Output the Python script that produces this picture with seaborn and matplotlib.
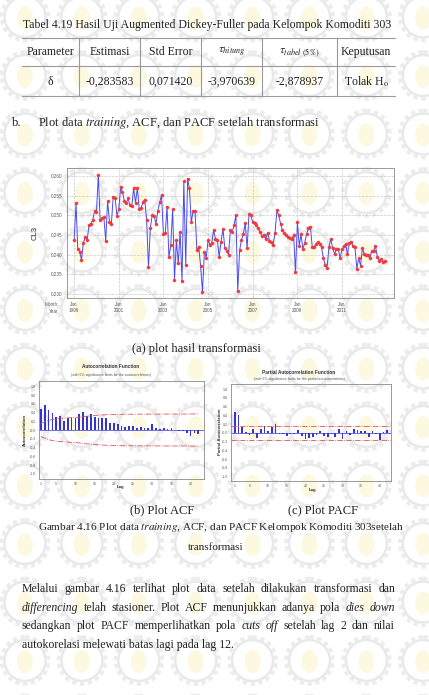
import numpy as np
import pandas as pd
import matplotlib
matplotlib.use('Agg')
import matplotlib.pyplot as plt
import seaborn as sns
from matplotlib.patches import Circle, Ellipse

W, H = 429, 695

# ---------------------------------------------------------------- data
# CL3 series after transformation, monthly Jan 1999 - Dec 2012
cl3 = [
    0.2437, 0.2530, 0.2414, 0.2408, 0.2387, 0.2430, 0.2444, 0.2436, 0.2475, 0.2479, 0.2488, 0.2511,
    0.2509, 0.2602, 0.2488, 0.2492, 0.2495, 0.2435, 0.2536, 0.2484, 0.2478, 0.2547, 0.2545, 0.2499,
    0.2516, 0.2572, 0.2558, 0.2537, 0.2530, 0.2543, 0.2526, 0.2523, 0.2568, 0.2532, 0.2570, 0.2515,
    0.2519, 0.2533, 0.2540, 0.2488, 0.2368, 0.2468, 0.2500, 0.2499, 0.2478, 0.2511, 0.2533, 0.2551,
    0.2452, 0.2456, 0.2522, 0.2393, 0.2425, 0.2515, 0.2336, 0.2436, 0.2378, 0.2458, 0.2334, 0.2587,
    0.2374, 0.2593, 0.2568, 0.2482, 0.2512, 0.2512, 0.2412, 0.2420, 0.2370, 0.2305, 0.2408, 0.2392,
    0.2437, 0.2425, 0.2430, 0.2462, 0.2440, 0.2437, 0.2395, 0.2433, 0.2465, 0.2418, 0.2410, 0.2400,
    0.2463, 0.2458, 0.2475, 0.2500, 0.2307, 0.2412, 0.2437, 0.2453, 0.2480, 0.2416, 0.2503, 0.2500,
    0.2482, 0.2480, 0.2475, 0.2467, 0.2458, 0.2447, 0.2450, 0.2440, 0.2456, 0.2435, 0.2433, 0.2425,
    0.2455, 0.2513, 0.2500, 0.2479, 0.2462, 0.2456, 0.2450, 0.2446, 0.2443, 0.2439, 0.2450, 0.2355,
    0.2482, 0.2422, 0.2453, 0.2414, 0.2430, 0.2453, 0.2467, 0.2471, 0.2420, 0.2420, 0.2426, 0.2433,
    0.2426, 0.2419, 0.2391, 0.2374, 0.2366, 0.2419, 0.2440, 0.2416, 0.2402, 0.2414, 0.2414, 0.2391,
    0.2414, 0.2421, 0.2427, 0.2401, 0.2429, 0.2433, 0.2422, 0.2419, 0.2364, 0.2391, 0.2372, 0.2416,
    0.2402, 0.2399, 0.2399, 0.2391, 0.2410, 0.2410, 0.2422, 0.2395, 0.2385, 0.2390, 0.2382, 0.2383,
]
tick_years = [1999, 2001, 2003, 2005, 2007, 2009, 2011]

acf_vals = [0.49, 0.57, 0.45, 0.39, 0.30, 0.33, 0.21, 0.28, 0.27, 0.27, 0.36, 0.41,
            0.33, 0.36, 0.30, 0.28, 0.28, 0.28, 0.17, 0.17, 0.13, 0.10, 0.075, 0.09,
            0.09, 0.05, 0.075, 0.05, 0.05, 0.13, 0.04, 0.015, 0.05, 0.03, 0.04, -0.01,
            -0.02, -0.015, -0.06, -0.135, -0.075, -0.09]
acf_lim = [0.151, 0.184, 0.221, 0.241, 0.255, 0.263, 0.272, 0.276, 0.282, 0.288, 0.294, 0.304,
           0.316, 0.324, 0.333, 0.339, 0.344, 0.349, 0.355, 0.356, 0.358, 0.359, 0.360, 0.361,
           0.361, 0.362, 0.362, 0.362, 0.363, 0.364, 0.364, 0.364, 0.364, 0.365, 0.365, 0.365,
           0.365, 0.365, 0.365, 0.367, 0.367, 0.368]
pacf_vals = [0.48, 0.42, 0.14, 0.02, -0.05, 0.08, -0.11, 0.08, 0.15, 0.04, 0.14, 0.20,
             -0.015, -0.03, -0.06, -0.015, -0.015, 0.06, -0.075, -0.15, -0.11, -0.10, -0.05, 0.04,
             -0.06, -0.10, -0.03, -0.10, 0.08, -0.13, 0.04, -0.05, 0.10, 0.06, 0.045, 0.045,
             -0.10, 0.04, -0.03, -0.17, 0.02, 0.06]
pacf_lim = 0.151

table_header = ['Parameter', 'Estimasi', 'Std Error', r'$\tau_{hitung}$',
                r'$\tau_{tabel\ \mathrm{(5\%)}}$', 'Keputusan']
table_row = ['δ', '-0,283583', '0,071420', '-3,970639', '-2,878937', r'Tolak H$_\mathrm{o}$']

# ---------------------------------------------------------------- style
sns.set_theme(style='white')
SANS = ['Liberation Sans', 'DejaVu Sans']
SERIF = ['Liberation Serif', 'DejaVu Serif']
plt.rcParams['font.family'] = SANS
plt.rcParams['mathtext.fontset'] = 'stix'

TXT = '#222222'
FS = 8.45
CAP = 9.0
ITALIC = ('differencing', 'dies', 'down', 'cuts', 'off')


def px(l, t, r, b):
    return [l / W, 1 - b / H, (r - l) / W, (b - t) / H]


fig = plt.figure(figsize=(W / 100, H / 100), dpi=100)
fig.patch.set_facecolor('white')
bg = fig.add_axes([0, 0, 1, 1], zorder=0)
bg.set_xlim(0, W)
bg.set_ylim(H, 0)
bg.axis('off')

# watermark (faint logo pattern)
for cx in np.arange(25, W + 30, 56.9):
    for cy in np.arange(17, H + 30, 58.5):
        bg.add_patch(Circle((cx, cy), 23.5, fill=False, ec='#ececec', lw=2.6, ls=(0, (1.2, 1.0)), zorder=0))
        bg.add_patch(Circle((cx, cy), 20.5, fill=False, ec='#e9e9e9', lw=1.8, zorder=0))
        bg.add_patch(Ellipse((cx, cy + 1), 16, 23, fc='#fdf8e0', ec='none', zorder=0))

rend = fig.canvas.get_renderer()


def line(s, x, y, ha='left', size=FS):
    bg.text(x, y, s, fontsize=size, family=SERIF, color=TXT, va='center', ha=ha, zorder=5)


def justify(s, y, x0, x1, size=FS):
    """place the words of s so that the line runs from x0 to x1"""
    words = [(w, w.strip(',.') in ITALIC) for w in s.split()]
    objs = []
    for w, it in words:
        objs.append(bg.text(0, y, w, fontsize=size, family=SERIF, color=TXT,
                            style='italic' if it else 'normal', va='center', ha='left', zorder=5))
    widths = [t.get_window_extent(rend).width for t in objs]
    gap = (x1 - x0 - sum(widths)) / (len(words) - 1)
    x = x0
    for t, wd in zip(objs, widths):
        t.set_x(x)
        x += wd + gap


# ---------------------------------------------------------------- table
line('Tabel 4.19 Hasil Uji Augmented Dickey-Fuller pada Kelompok Komoditi 303', 23, 25)
col_edges = [22, 79, 140, 201, 262, 337, 395]
for yy in [38, 66, 96]:
    bg.plot([22, 395], [yy, yy], color='#9a9a9a', lw=0.8, zorder=2)
for xx in col_edges[1:-1]:
    bg.plot([xx, xx], [38, 96], color='#9a9a9a', lw=0.8, zorder=2)
for i in range(6):
    cxx = (col_edges[i] + col_edges[i + 1]) / 2
    bg.text(cxx, 52, table_header[i], fontsize=FS, family=SERIF, color=TXT, ha='center', va='center')
    bg.text(cxx, 82, table_row[i], fontsize=FS, family=SERIF, color=TXT, ha='center', va='center')

line('b.', 12, 123, size=CAP)
line(r'Plot data $\mathit{training}$, ACF, dan PACF setelah transformasi', 38, 123, size=CAP)

# ---------------------------------------------------------------- time series plot
ax = fig.add_axes(px(67, 168, 394, 298), zorder=1)
ax.patch.set_alpha(0)
dates = pd.date_range('1999-01-01', periods=len(cl3), freq='MS')
df = pd.DataFrame({'date': dates, 'CL3': cl3})
sns.lineplot(data=df, x='date', y='CL3', ax=ax, color='#4a4af2', lw=0.7,
             marker='o', markersize=2.3, markerfacecolor='#f23a3a', markeredgecolor='#f23a3a',
             markeredgewidth=0.2)
ax.set_ylim(0.2290, 0.2620)
ax.set_xlim(pd.Timestamp('1998-09-06'), pd.Timestamp('2013-05-01'))
ax.set_yticks(np.arange(0.230, 0.2601, 0.005))
ax.set_yticklabels([f'{v:.3f}' for v in np.arange(0.230, 0.2601, 0.005)])
xt = pd.to_datetime([f'{y}-01-01' for y in tick_years])
ax.set_xticks(xt)
ax.set_xticklabels([f'Jan\n{y}' for y in tick_years], linespacing=1.25)
ax.grid(True, ls='--', color='#c9c9c9', lw=0.5)
ax.tick_params(labelsize=3.3, colors='#555555', length=1.5, width=0.4, pad=1.5)
for sp in ax.spines.values():
    sp.set_color('#8a8a8a')
    sp.set_linewidth(0.6)
ax.set_xlabel('')
ax.set_ylabel('CL3', fontsize=5.5, color='#333333', labelpad=9)
bg.text(58, 305, 'Month', fontsize=3.3, color='#555555', ha='right', va='center')
bg.text(58, 311.5, 'Year', fontsize=3.3, color='#555555', ha='right', va='center')

line('(a) plot hasil transformasi', 196, 349, ha='center', size=CAP)

# ---------------------------------------------------------------- ACF / PACF
lags = np.arange(1, len(acf_vals) + 1)
BAR = '#3434d4'
LIM = '#e05050'

ax2 = fig.add_axes(px(39, 381, 204, 479), zorder=1)
ax2.patch.set_alpha(0)
ax2.bar(lags, acf_vals, width=0.45, color=BAR, lw=0)
ax2.axhline(0, color=BAR, lw=0.5)
ax2.plot(lags, acf_lim, color=LIM, ls='-.', lw=0.6)
ax2.plot(lags, [-v for v in acf_lim], color=LIM, ls='-.', lw=0.6)
ax2.set_xlim(0.5, 43.5)
ax2.set_ylim(-1.12, 1.12)

ax3 = fig.add_axes(px(231, 384, 391, 481), zorder=1)
ax3.patch.set_alpha(0)
lags3 = np.arange(1, len(pacf_vals) + 1)
ax3.bar(lags3, pacf_vals, width=0.45, color=BAR, lw=0)
ax3.axhline(0, color=BAR, lw=0.5)
ax3.axhline(pacf_lim, color=LIM, ls='-.', lw=0.6)
ax3.axhline(-pacf_lim, color=LIM, ls='-.', lw=0.6)
ax3.set_xlim(0, 43)
ax3.set_ylim(-1.10, 1.12)

for a in (ax2, ax3):
    a.set_xticks([1, 5, 10, 15, 20, 25, 30, 35, 40])
    a.set_yticks(np.round(np.arange(-1.0, 1.01, 0.2), 1))
    a.set_yticklabels([f'{v:.1f}' for v in np.round(np.arange(-1.0, 1.01, 0.2), 1)])
    a.tick_params(labelsize=2.6, colors='#555555', length=1.2, width=0.4, pad=1.2)
    for sp in a.spines.values():
        sp.set_color('#8a8a8a')
        sp.set_linewidth(0.6)

bg.text(111, 367, 'Autocorrelation Function', fontsize=3.4, weight='bold', color='#333333', ha='center', va='center')
bg.text(111, 375, '(with 5% significance limits for the autocorrelations)', fontsize=2.5, color='#555555', ha='center', va='center')
bg.text(25, 430, 'Autocorrelation', fontsize=3.2, weight='bold', color='#333333', rotation=90, ha='center', va='center')
bg.text(121, 487, 'Lag', fontsize=3.2, weight='bold', color='#333333', ha='center', va='center')

bg.text(299, 372, 'Partial Autocorrelation Function', fontsize=3.4, weight='bold', color='#333333', ha='center', va='center')
bg.text(299, 379, '(with 5% significance limits for the partial autocorrelations)', fontsize=2.5, color='#555555', ha='center', va='center')
bg.text(220, 432, 'Partial Autocorrelation', fontsize=3.2, weight='bold', color='#333333', rotation=90, ha='center', va='center')
bg.text(313, 490, 'Lag', fontsize=3.2, weight='bold', color='#333333', ha='center', va='center')

line('(b) Plot ACF', 162, 510, ha='center', size=CAP)
line('(c) Plot PACF', 323, 510, ha='center', size=CAP)
line(r'Gambar 4.16 Plot data $\mathit{training}$, ACF, dan PACF Kelompok Komoditi 303setelah',
     221, 528, ha='center', size=8.0)
line('transformasi', 216, 547, ha='center', size=8.0)

# ---------------------------------------------------------------- paragraph
par_lines = [
    'Melalui gambar 4.16 terlihat plot data setelah dilakukan transformasi dan',
    'differencing telah stasioner. Plot ACF menunjukkan adanya pola dies down',
    'sedangkan plot PACF memperlihatkan pola cuts off setelah lag 2 dan nilai',
]
for k, s in enumerate(par_lines):
    justify(s, 589 + 18.7 * k, 22, 395)
line('autokorelasi melewati batas lagi pada lag 12.', 22, 589 + 18.7 * 3)

fig.savefig('out.png', dpi=100)
